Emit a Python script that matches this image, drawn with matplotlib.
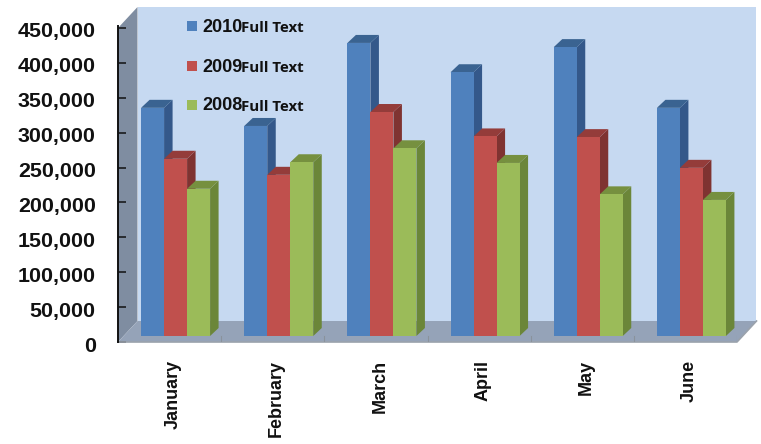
import matplotlib
matplotlib.use('Agg')
import matplotlib.pyplot as plt
from matplotlib.patches import Polygon, Rectangle
from matplotlib.transforms import ScaledTranslation

months = ['January', 'February', 'March', 'April', 'May', 'June']
years = ['2010', '2009', '2008']
v2010 = [327000, 301000, 420000, 378000, 414000, 327000]
v2009 = [254000, 231000, 321000, 286000, 285000, 241000]
v2008 = [211000, 249000, 269000, 248000, 203000, 195000]
series = [v2010, v2009, v2008]

front = ['#4F81BD', '#C0504D', '#9BBB59']
top = ['#3A6391', '#943C3A', '#76903F']
side = ['#34588A', '#7F3331', '#6B8639']

W, H = 761, 444
fig = plt.figure(figsize=(W / 100, H / 100), dpi=100)
# axes box = front plane of the 3d chart
L, R, T, B = 118, 737, 28, 342
ax = fig.add_axes([L / W, 1 - B / H, (R - L) / W, (B - T) / H])
ax.set_xlim(0, 6)
ax.set_ylim(0, 450000)
ax.set_axisbelow(False)
for s in ax.spines.values():
    s.set_visible(False)
ax.patch.set_visible(False)

px_x = 6 / (R - L)
px_y = 450000 / (B - T)


def poly(pts, color, z=1):
    ax.add_patch(Polygon(pts, closed=True, facecolor=color, edgecolor=color, linewidth=0, zorder=z, clip_on=False))


# walls and floor
dx, dy = 19.5 * px_x, 21 * px_y
ymax = 450000
poly([(dx, dy), (6 + dx, dy), (6 + dx, ymax + dy), (dx, ymax + dy)], '#C6D9F1', 1)
poly([(0, 0), (dx, dy), (dx, ymax + dy), (0, ymax)], '#7F8DA1', 2)
poly([(0, 0), (6, 0), (6 + dx, dy), (dx, dy)], '#95A3B8', 2)
ax.plot([0, 6, 6 + dx], [0, 0, dy], color='#9AA2AC', lw=1.2, zorder=3, clip_on=False)
ax.plot([0, 0], [0, ymax + 2 * px_y], color='#111111', lw=1.4, zorder=4, clip_on=False)
for i in range(1, 7):
    ax.plot([i, i], [0, 6 * px_y], color='#8A929C', lw=0.8, zorder=3)

# bars
bw = 23 * px_x
off_x, off_y = 6 * px_x, 6 * px_y
ddx, ddy = 8.5 * px_x, 8 * px_y
for j, vals in enumerate(series):
    for i, v in enumerate(vals):
        x0 = i + 0.5 + (j - 1.5) * bw + off_x
        x1 = x0 + bw
        y0 = off_y
        y1 = off_y + v
        z = 5 + j * 0.1
        poly([(x1, y0), (x1 + ddx, y0 + ddy), (x1 + ddx, y1 + ddy), (x1, y1)], side[j], z)
        poly([(x0, y1), (x1, y1), (x1 + ddx, y1 + ddy), (x0 + ddx, y1 + ddy)], top[j], z)
        poly([(x0, y0), (x1, y0), (x1, y1), (x0, y1)], front[j], z + 0.05)

# ticks
ax.set_yticks(range(0, 450001, 50000))
ax.set_yticklabels([f'{t:,}' for t in range(0, 450001, 50000)], fontsize=15.4, fontweight='bold',
                   family='Liberation Sans', color='#111111')
ax.tick_params(axis='y', direction='in', length=6, width=1.1, color='#111111', pad=16)
shift = ScaledTranslation(0, -2 / 100, fig.dpi_scale_trans)
for lab in ax.get_yticklabels():
    lab.set_transform(lab.get_transform() + shift)
ax.set_xticks([i + 0.5 + 4 * px_x for i in range(6)])
ax.set_xticklabels(months, rotation=90, fontsize=13, fontweight='bold', family='Liberation Sans', color='#111111')
ax.tick_params(axis='x', length=0, pad=13)

# legend, placed by hand inside the back wall
leg_y = [26, 66, 105]
for j, yr in enumerate(years):
    fig.add_artist(Rectangle((187 / W, 1 - (leg_y[j] + 5) / H), 10 / W, 10 / H, transform=fig.transFigure,
                             facecolor=front[j], edgecolor='none', zorder=8))
    fig.text(202 / W, 1 - (leg_y[j] + 1) / H, yr, fontsize=13, fontweight='bold', family='Liberation Sans',
             va='center', ha='left', color='#111111')
    fig.text(241 / W, 1 - (leg_y[j] + 1.5) / H, 'Full Text', fontsize=10.8, fontweight='bold', family='Open Sans',
             va='center', ha='left', color='#111111')

fig.savefig('out.png', dpi=100)
